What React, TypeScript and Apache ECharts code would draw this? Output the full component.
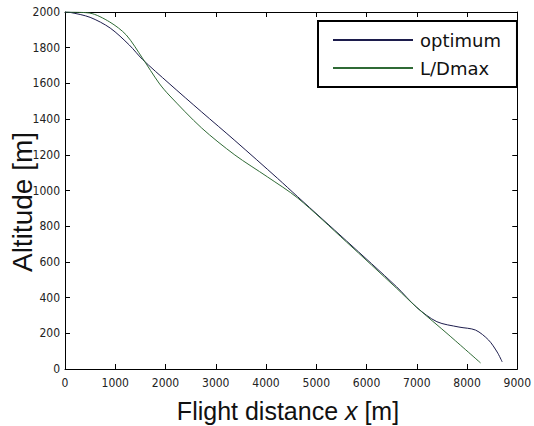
import React, { useEffect, useRef } from "react";
import * as echarts from "echarts";

// Flight distance x [m] and altitude [m]
const optimumX = [0, 100, 500, 900, 1280, 1540, 2070, 2720, 3380, 4230, 4630, 5600, 6600, 7000, 7400, 7840, 8170, 8430, 8600, 8700];
const optimumAlt = [2000, 1998, 1970, 1910, 1815, 1735, 1600, 1440, 1280, 1068, 965, 718, 460, 345, 265, 235, 218, 162, 95, 40];

const ldmaxX = [0, 490, 890, 1220, 1540, 1870, 2070, 2720, 3380, 4030, 4630, 5600, 6600, 7000, 7640, 8270];
const ldmaxAlt = [2000, 1994, 1944, 1871, 1742, 1602, 1535, 1350, 1199, 1076, 958, 712, 452, 345, 190, 34];

const seriesNames = ["optimum", "L/Dmax"];
const xTitle = "Flight distance {i|x} [m]";
const yTitle = "Altitude [m]";

export default function App() {
  const ref = useRef<HTMLDivElement>(null);
  useEffect(() => {
    const chart = echarts.init(ref.current!, null, { renderer: "svg" });
    const tickFont = "'Liberation Sans Narrow','DejaVu Sans Condensed','Liberation Sans',sans-serif";
    const axisCommon = {
      type: "value",
      axisLine: { show: true, onZero: false, lineStyle: { color: "#000", width: 1 } },
      axisTick: { show: true, inside: true, length: 5, lineStyle: { color: "#000", width: 1 } },
      splitLine: { show: false },
    };
    const fmt = (v: number) => String(v);
    chart.setOption({
      animation: false,
      backgroundColor: "#fff",
      grid: { left: 65, right: 12, top: 12, bottom: 57 },
      xAxis: [
        {
          ...axisCommon,
          min: 0, max: 9000, interval: 1000, position: "bottom",
          axisLabel: { color: "#222", fontSize: 12, fontFamily: tickFont, margin: 8, formatter: fmt },
        },
        {
          ...axisCommon,
          min: 0, max: 9000, interval: 1000, position: "top",
          axisLabel: { show: false },
        },
      ],
      yAxis: [
        {
          ...axisCommon,
          min: 0, max: 2000, interval: 200, position: "left",
          axisLabel: { color: "#222", fontSize: 12, fontFamily: tickFont, margin: 5, formatter: fmt },
        },
        {
          ...axisCommon,
          min: 0, max: 2000, interval: 200, position: "right",
          axisLabel: { show: false },
        },
      ],
      legend: {
        orient: "vertical",
        left: 318,
        top: 21,
        padding: [10, 16, 10, 15],
        icon: "rect",
        itemWidth: 80,
        itemHeight: 2,
        itemGap: 10,
        borderColor: "#000",
        borderWidth: 2,
        borderRadius: 0,
        backgroundColor: "#fff",
        textStyle: { fontSize: 18, fontFamily: "'DejaVu Sans', sans-serif", color: "#111", padding: [0, 0, 0, 2] },
        data: seriesNames,
      },
      series: [
        {
          name: seriesNames[0],
          type: "line",
          xAxisIndex: 0,
          yAxisIndex: 0,
          symbol: "none",
          smooth: 0.3,
          lineStyle: { color: "#1c1c4c", width: 1 },
          itemStyle: { color: "#1c1c4c" },
          data: optimumX.map((x, i) => [x, optimumAlt[i]]),
        },
        {
          name: seriesNames[1],
          type: "line",
          xAxisIndex: 0,
          yAxisIndex: 0,
          symbol: "none",
          smooth: 0.3,
          lineStyle: { color: "#2f6a35", width: 1 },
          itemStyle: { color: "#2f6a35" },
          data: ldmaxX.map((x, i) => [x, ldmaxAlt[i]]),
        },
      ],
      graphic: [
        {
          type: "text",
          x: 288,
          y: 411,
          style: {
            text: xTitle,
            fill: "#111",
            fontSize: 25,
            fontFamily: "'Liberation Sans', sans-serif",
            align: "center",
            verticalAlign: "middle",
            rich: { i: { fontStyle: "italic", fontSize: 25, fontFamily: "'Liberation Sans', sans-serif", fill: "#111" } },
          },
        },
        {
          type: "text",
          x: 22,
          y: 202,
          rotation: Math.PI / 2,
          style: {
            text: yTitle,
            fill: "#111",
            fontSize: 28,
            fontFamily: "'Liberation Sans', sans-serif",
            align: "center",
            verticalAlign: "middle",
          },
        },
      ],
    });
    return () => chart.dispose();
  }, []);
  return <div ref={ref} style={{ position: "absolute", left: 0, top: 0, width: 534, height: 426 }} />;
}
